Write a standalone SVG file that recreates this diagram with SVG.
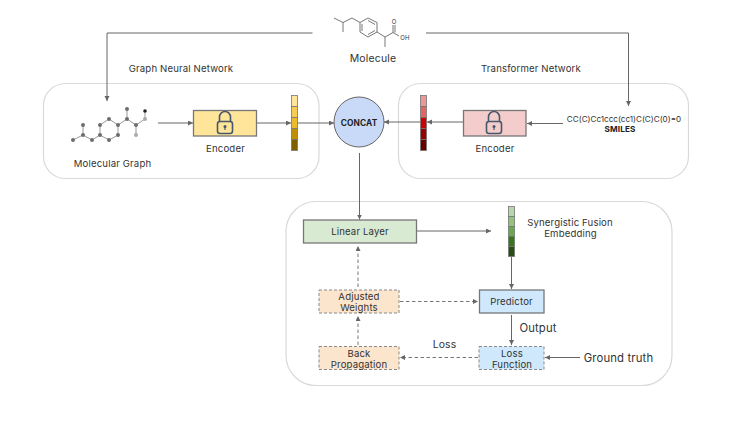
<svg xmlns="http://www.w3.org/2000/svg" width="747" height="421" viewBox="0 0 747 421">
<style>
text{font-family:"Inter","Open Sans","Liberation Sans",sans-serif;font-size:9.6px;letter-spacing:.15px;fill:#333;text-anchor:middle}
.panel{fill:#fff;stroke:#d9d9d9;stroke-width:1.2}
.box{stroke:#777;stroke-width:1.3}
.dash{stroke:#888;stroke-width:1;stroke-dasharray:3 2}
.conn{fill:none;stroke:#666;stroke-width:1;marker-end:url(#arrow)}
.dconn{fill:none;stroke:#777;stroke-width:1;stroke-dasharray:3.5 2.5;marker-end:url(#arrow)}
.cell{stroke:#777;stroke-width:.8}
.bond{fill:none;stroke:#555;stroke-width:.8}
.gbond{fill:none;stroke:#999;stroke-width:1}
.atom{fill:#6d6d6d}
.lock{fill:none;stroke:#46586c;stroke-width:1.6}
.big{font-size:11.3px}
</style>
<defs>
<marker id="arrow" markerUnits="userSpaceOnUse" markerWidth="6" markerHeight="6" refX="5" refY="2.5" orient="auto"><path d="M0 0L5 2.5L0 5z" fill="#666"/></marker>
<g id="padlock"><path class="lock" d="M-5.500-2V-6.500a5.500 5.500 0 0 1 11 0V-2"/><rect class="lock" x="-7.500" y="-2" width="15" height="12" rx="2.500"/><circle cx="0" cy="3" r="1.500" fill="#46586c"/><path d="M0 3V6.500" stroke="#46586c" stroke-width="1.200"/></g>
</defs>
<rect width="747" height="421" fill="#fff"/>

<g id="panel-gnn"><rect class="panel" x="43.500" y="83.500" width="275.500" height="95" rx="22"/><text x="181" y="72">Graph Neural Network</text></g>
<g id="panel-transformer"><rect class="panel" x="398.500" y="83.500" width="290" height="95" rx="22"/><text x="531" y="72">Transformer Network</text></g>
<g id="panel-fusion"><rect class="panel" x="286" y="201.500" width="386" height="184" rx="30"/></g>

<g id="connectors">
<path class="conn" d="M312.500 33H107V101"/>
<path class="conn" d="M426 33H628.500V106"/>
<path class="conn" d="M158 123H193"/>
<path class="conn" d="M257 123H291"/>
<path class="conn" d="M298 123H334"/>
<path class="conn" d="M463 122H427"/>
<path class="conn" d="M420 122H384"/>
<path class="conn" d="M563 123.500H527"/>
<path class="conn" d="M359.500 153V219.500"/>
<path class="conn" d="M417 231H491"/>
<path class="conn" d="M511.500 257V289"/>
<path class="conn" d="M511.500 315V345"/>
<path class="conn" d="M580 357.500H545"/>
<path class="dconn" d="M358 287V246"/>
<path class="dconn" d="M358 345V316"/>
<path class="dconn" d="M400 301.500H478"/>
<path class="dconn" d="M478 357.500H400"/>
</g>

<g id="molecule">
<path class="bond" d="M334 18L343 22.500L352 18L360 22.500V32L368 37L377 32V22.500L368 18L360 22.500M343 22.500V32M362 24V31M368 34.500L375 30.500M368 20.500L375 24.500M377 32L385 37V47M385 37L393 32.500V25M395 32.500V25M393 32.500L399 36"/>
<text x="405" y="39.500" style="font-size:6px">OH</text>
<text x="394" y="24" style="font-size:6px">O</text>
<text x="373" y="62" style="font-size:10.500px">Molecule</text>
</g>

<g id="molecular-graph">
<path class="gbond" d="M73 140L83 135L92 140L100 135V125L109 119L118 125V135L109 140L100 135M83 135V125M118 125L127 119V109M127 119L136 125L145 119V111M136 125V135"/>
<circle class="atom" cx="73" cy="140" r="2"/><circle class="atom" cx="83" cy="135" r="2"/><circle class="atom" cx="83" cy="125" r="2"/><circle class="atom" cx="92" cy="140" r="2"/><circle class="atom" cx="100" cy="135" r="2"/><circle class="atom" cx="100" cy="125" r="2"/><circle class="atom" cx="109" cy="119" r="2"/><circle class="atom" cx="118" cy="125" r="2"/><circle class="atom" cx="118" cy="135" r="2"/><circle class="atom" cx="109" cy="140" r="2"/><circle class="atom" cx="127" cy="119" r="2"/><circle class="atom" cx="127" cy="109" r="2"/><circle class="atom" cx="136" cy="125" r="2"/>
<circle cx="136" cy="135" r="2" fill="#aaa"/><circle cx="145" cy="119" r="2" fill="#aaa"/><circle cx="145" cy="111" r="1.800" fill="#222"/>
<text x="112.500" y="167">Molecular Graph</text>
</g>

<g id="encoder-gnn"><rect class="box" x="193.500" y="110.500" width="63" height="25.500" fill="#ffe599"/><use href="#padlock" x="225" y="123.500"/><text x="225.500" y="152">Encoder</text></g>
<g id="embedding-gnn">
<rect class="cell" x="291.500" y="95.500" width="6" height="11" fill="#ffe599"/><rect class="cell" x="291.500" y="106.500" width="6" height="11" fill="#f6cd52"/><rect class="cell" x="291.500" y="117.500" width="6" height="11" fill="#ecbb2d"/><rect class="cell" x="291.500" y="128.500" width="6" height="11" fill="#bf9000"/><rect class="cell" x="291.500" y="139.500" width="6" height="11" fill="#7f6000"/>
</g>

<g id="concat"><circle cx="359" cy="122" r="25" fill="#c9daf8" stroke="#666" stroke-width="1"/><text x="359" y="125.500" style="font-size:8.300px;font-weight:700;fill:#222">CONCAT</text></g>

<g id="embedding-transformer">
<rect class="cell" x="420.500" y="95.500" width="6" height="11" fill="#ea9999"/><rect class="cell" x="420.500" y="106.500" width="6" height="11" fill="#e06666"/><rect class="cell" x="420.500" y="117.500" width="6" height="11" fill="#cc0000"/><rect class="cell" x="420.500" y="128.500" width="6" height="11" fill="#990000"/><rect class="cell" x="420.500" y="139.500" width="6" height="11" fill="#660000"/>
</g>
<g id="encoder-transformer"><rect class="box" x="463.500" y="110.500" width="62.500" height="25.500" fill="#f4cccc"/><use href="#padlock" x="494" y="123.500"/><text x="495" y="152">Encoder</text></g>
<g id="smiles"><text x="624" y="122" style="font-size:8.100px;letter-spacing:0">CC(C)Cc1ccc(cc1)C(C)C(0)=0</text><text x="620" y="132" style="font-size:8.200px;font-weight:700;fill:#222">SMILES</text></g>

<g id="linear-layer"><rect class="box" x="303.500" y="220" width="113" height="23" fill="#d9ead3"/><text x="360" y="235">Linear Layer</text></g>
<g id="embedding-fusion">
<rect class="cell" x="508.500" y="206.500" width="6" height="10" fill="#b6d7a8"/><rect class="cell" x="508.500" y="216.500" width="6" height="10" fill="#93c47d"/><rect class="cell" x="508.500" y="226.500" width="6" height="10" fill="#6aa84f"/><rect class="cell" x="508.500" y="236.500" width="6" height="10" fill="#38761d"/><rect class="cell" x="508.500" y="246.500" width="6" height="10" fill="#274e13"/>
<text x="570" y="226">Synergistic Fusion</text><text x="570.500" y="237">Embedding</text>
</g>
<g id="predictor"><rect class="box" x="479.500" y="290" width="64.500" height="23" fill="#cfe8fc"/><text x="511.500" y="305">Predictor</text></g>
<g id="adjusted-weights"><rect class="dash" x="319" y="290" width="80" height="23" fill="#fce5cd"/><text x="359" y="300">Adjusted</text><text x="359" y="311">Weights</text></g>
<g id="back-propagation"><rect class="dash" x="319" y="346.500" width="80" height="23" fill="#fce5cd"/><text x="359" y="357">Back</text><text x="359" y="367.500">Propagation</text></g>
<g id="loss-function"><rect class="dash" x="479" y="346.500" width="65" height="23" fill="#cfe8fc"/><text x="512" y="356.500">Loss</text><text x="512" y="367.500">Function</text></g>
<g id="labels"><text class="big" x="538" y="331.500">Output</text><text x="444.500" y="348" style="font-size:10.400px">Loss</text><text class="big" x="618.500" y="361.500">Ground truth</text></g>
</svg>
